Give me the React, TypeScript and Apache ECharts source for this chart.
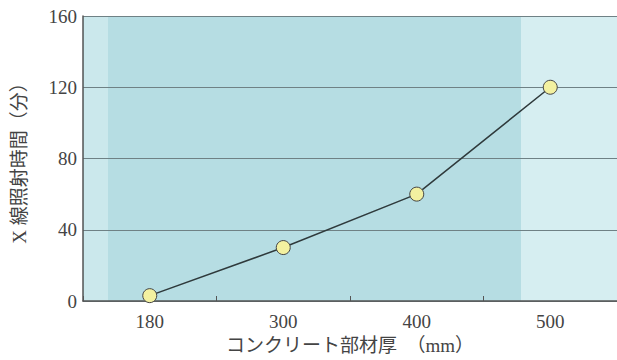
import React, { useEffect, useRef } from "react";
import * as echarts from "echarts";

const categories = ["180", "300", "400", "500"];
const times = [3, 30, 60, 120];
const yTicks = [0, 40, 80, 120, 160];

const serif = "Liberation Serif, DejaVu Serif, Noto Sans CJK JP, serif";

export default function App() {
  const ref = useRef<HTMLDivElement>(null);
  useEffect(() => {
    if (!ref.current) return;
    const chart = echarts.init(ref.current, undefined, { renderer: "svg" });
    chart.setOption({
      animation: false,
      backgroundColor: "#ffffff",
      grid: {
        left: 83,
        right: -2,
        top: 16,
        bottom: 59,
        show: false,
      },
      graphic: [
        { type: "rect", left: 83, top: 16, shape: { width: 540, height: 285 }, style: { fill: "#b6dde3" }, z: -2 },
        { type: "rect", left: 84, top: 16, shape: { width: 24, height: 285 }, style: { fill: "#cbe8ec" }, z: -1 },
        { type: "rect", left: 521, top: 16, shape: { width: 100, height: 285 }, style: { fill: "#d6eef1" }, z: -1 },
      ],
      xAxis: {
        type: "category",
        data: categories,
        boundaryGap: true,
        name: "コンクリート部材厚　（mm）",
        nameLocation: "middle",
        nameGap: 30,
        nameTextStyle: { fontFamily: serif, fontSize: 19, color: "#444" },
        axisLine: { show: true, lineStyle: { color: "#555", width: 1.5 } },
        axisTick: { show: true, inside: true, length: 5, lineStyle: { color: "#555" } },
        axisLabel: { fontFamily: serif, fontSize: 19, color: "#444", margin: 11 },
        splitLine: { show: false },
      },
      yAxis: {
        type: "value",
        min: yTicks[0],
        max: yTicks[yTicks.length - 1],
        interval: 40,
        name: "X 線照射時間（分）",
        nameLocation: "middle",
        nameRotate: 90,
        nameGap: 54,
        nameTextStyle: { fontFamily: serif, fontSize: 19, color: "#444" },
        axisLine: { show: true, lineStyle: { color: "#555", width: 1.5 } },
        axisTick: { show: false },
        axisLabel: { fontFamily: serif, fontSize: 19, color: "#444", margin: 6 },
        splitLine: { show: true, lineStyle: { color: "#6f8185", width: 1 } },
      },
      series: [
        {
          type: "line",
          data: times,
          symbol: "circle",
          symbolSize: 14,
          itemStyle: { color: "#f3f1a0", borderColor: "#444", borderWidth: 1 },
          lineStyle: { color: "#2f3a3c", width: 1.5 },
          z: 5,
        },
      ],
    });
    return () => chart.dispose();
  }, []);
  return <div ref={ref} style={{ width: 617, height: 360, position: "absolute", left: 0, top: 0 }} />;
}
